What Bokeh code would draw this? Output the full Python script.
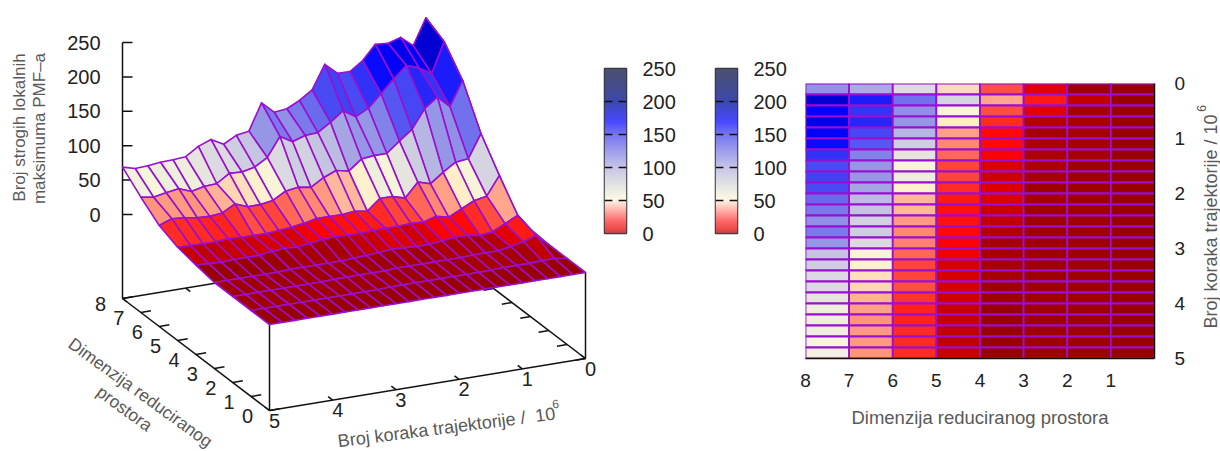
import numpy as np
from bokeh.core.properties import value
from bokeh.embed import file_html
from bokeh.layouts import row
from bokeh.models import ColumnDataSource, FixedTicker, Range1d
from bokeh.plotting import figure
from bokeh.resources import INLINE

FONT = "Liberation Sans"
PURPLE = "#9a0fd0"
INK = "#222222"
GREY = "#595959"

# ---------- data ----------
# trajectory step index runs t = 5.0, 4.8, ... 0.2, 0.0 (26 values)
t_values = [5.0 - 0.2 * i for i in range(26)]
d_values = [8, 7, 6, 5, 4, 3, 2, 1, 0]

z_d8 = [66, 61, 62, 64, 64.5, 66, 78, 85, 75, 85, 88, 126, 109.5, 111.5, 120.5, 133, 167, 151, 150.5, 163.5, 184, 182.6, 188, 173, 210.5, 30]
z_d7 = [42.6, 39.6, 43, 45.8, 38.8, 43, 44, 56, 55, 59, 70, 97.5, 87, 93, 94, 106, 120, 108, 117.6, 135.5, 154, 170.5, 164, 152.5, 196, 24]
z_d6 = [21.8, 28.5, 27, 24, 23, 25, 35, 28, 28, 31, 41.4, 44, 41, 52, 59.4, 55.4, 70, 72, 72, 87, 101, 128, 142, 125, 160, 18]
z_d5 = [10.6, 10, 9.5, 9, 10.8, 10, 9.5, 9, 10.7, 12.5, 15, 19, 19, 18.5, 20.6, 17.6, 33, 33, 27.5, 47.7, 42.3, 56, 67.6, 69.6, 103, 10]
z_d4 = [5, 4, 3, 4, 4, 4, 7, 8, 7, 9, 12, 13, 12, 12, 13, 13, 13, 14, 13, 18.6, 14, 23, 32, 35.6, 62.5, 7]
z_d3 = [0, 0, 0, 0, 0, 0, 1, 1, 1, 1, 1, 2, 3, 4, 6, 5, 4, 4, 6, 8, 8, 5, 7, 16, 25, 2]
z_d2 = [0, 0, 0, 0, 0, 0, 0, 0, 1, 1, 1, 1, 1, 2, 2, 2, 2, 2, 2, 3, 3, 3, 6, 10, 16, 0]
z_d1 = [0, 0, 0, 0, 0, 0, 0, 0, 0, 0, 0, 1, 1, 1, 1, 1, 1, 1, 1, 1, 2, 2, 2, 3, 3, 0]
z_d0 = [0, 0, 0, 0, 0, 0, 0, 0, 0, 0, 0, 0, 0, 0, 0, 0, 0, 0, 0, 0, 0, 0, 0, 0, 0, 0]
z_surface = [z_d8, z_d7, z_d6, z_d5, z_d4, z_d3, z_d2, z_d1, z_d0]

# cell values, top row of the map (t 0-0.2) first, one list per dimension band
cells_d8_7 = [115, 183, 170, 176, 172, 167, 156, 148, 151, 148, 135, 128, 116, 128, 112, 85, 80, 73, 73, 67, 62, 62, 62, 58, 60]
cells_d7_6 = [100, 162, 155, 159, 150, 143, 125, 112, 112, 103, 90, 85, 78, 80, 73, 56, 53, 47, 45, 38, 35, 33, 34, 34, 33]
cells_d6_5 = [72, 132, 116, 112, 93, 80, 67, 57, 62, 52, 39, 39, 34, 31, 30, 27, 23, 23, 24, 21, 19, 19, 20, 20, 20]
cells_d5_4 = [46, 76, 56, 50, 35, 31, 27, 23, 23, 20, 18, 17, 17, 16, 15, 13, 9, 9, 9, 8, 7, 7, 6, 6, 7]
cells_d4_3 = [24, 36, 24, 20, 16, 16, 15, 10, 8, 10, 10, 7, 6, 4, 2, 2, 2, 2, 1, 0.5, 0, 0, 0, 0, 0]
cells_d3_2 = [11, 18, 11, 4, 2, 3, 3, 3, 2, 1, 2, 1, 1, 1, 1, 1, 1, 1, 1, 1, 1, 1, 1, 1, 1]
cells_d2_1 = [1, 6, 2, 2, 2, 2, 2, 1, 1, 1, 1, 1, 1, 1, 1, 1, 1, 1, 1, 1, 1, 1, 1, 1, 1]
cells_d1_0 = [0, 0, 0, 0, 0, 0, 0, 0, 0, 0, 0, 0, 0, 0, 0, 0, 0, 0, 0, 0, 0, 0, 0, 0, 0]
cells = [cells_d8_7, cells_d7_6, cells_d6_5, cells_d5_4, cells_d4_3, cells_d3_2, cells_d2_1, cells_d1_0]

z_ticks = [0, 50, 100, 150, 200, 250]
d_ticks = [0, 1, 2, 3, 4, 5, 6, 7, 8]
t_ticks = [0, 1, 2, 3, 4, 5]

z_title_1 = "Broj strogih lokalnih"
z_title_2 = "maksimuma PMF\u2013a"
d_title_1 = "Dimenzija reduciranog"
d_title_2 = "prostora"
t_title = "Broj koraka trajektorije /\u00a0\u00a010"
map_t_title = "Broj koraka trajektorije / 10"
sup = "6"
map_x_title = "Dimenzija reduciranog prostora"

# palette of the surface and map
pal_v = [0, 15, 30, 40, 50, 58, 75, 100, 125, 150, 170, 185, 250]
pal_r = [153, 255, 255, 255, 255, 246, 215, 170, 130, 70, 0, 0, 0]
pal_g = [0, 0, 130, 190, 238, 246, 215, 170, 130, 70, 0, 0, 0]
pal_b = [0, 0, 110, 160, 200, 220, 225, 228, 235, 245, 255, 204, 100]

# colour bar as drawn (a paler rendition of the palette)
bar_v = [0, 5, 20, 45, 52, 60, 100, 150, 170, 200, 225, 250]
bar_r = [176, 235, 255, 255, 255, 242, 198, 118, 72, 60, 68, 76]
bar_g = [72, 72, 110, 225, 248, 242, 198, 118, 72, 72, 76, 80]
bar_b = [72, 72, 110, 212, 230, 226, 232, 242, 255, 176, 140, 112]


def colour(v, xs, r, g, b):
    return "#%02x%02x%02x" % (int(np.interp(v, xs, r)), int(np.interp(v, xs, g)), int(np.interp(v, xs, b)))


def cell_colour(v):
    return colour(v, pal_v, pal_r, pal_g, pal_b)


# ---------- view of the 3D box ----------
Z_FLOOR = -125.0
OX, OY = 269.0, 324.0
TX, TY = 63.2, -10.4
DX, DY = -18.375, -14.0
ZY = -0.688


def proj(t, d, z):
    return OX + (5 - t) * TX + d * DX, OY + (5 - t) * TY + d * DY + z * ZY


W3, H3 = 596, 451
p3 = figure(width=W3, height=H3, x_range=Range1d(0, W3), y_range=Range1d(H3, 0),
            x_axis_location=None, y_axis_location=None, toolbar_location=None,
            output_backend="svg", min_border=0, outline_line_color=None, frame_align=False)
p3.xgrid.visible = False
p3.ygrid.visible = False

seg = {"x0": [], "y0": [], "x1": [], "y1": []}


def add_seg(a, b):
    seg["x0"].append(a[0]); seg["y0"].append(a[1]); seg["x1"].append(b[0]); seg["y1"].append(b[1])


ZSHIFT = 2.0
# floor edges
add_seg(proj(5, 0, Z_FLOOR), proj(5, 8, Z_FLOOR))
add_seg(proj(5, 0, Z_FLOOR), proj(0, 0, Z_FLOOR))
add_seg(proj(0, 0, Z_FLOOR), proj(0, 8, Z_FLOOR))
add_seg(proj(5, 8, Z_FLOOR), proj(0, 8, Z_FLOOR))
# uprights
add_seg(proj(5, 0, Z_FLOOR), proj(5, 0, 0))
add_seg(proj(0, 0, Z_FLOOR), proj(0, 0, 0))
za = proj(5, 8, 250)
add_seg(proj(5, 8, Z_FLOOR), (za[0], za[1] + ZSHIFT))
# ticks
for z in z_ticks:
    a = proj(5, 8, z)
    add_seg((a[0], a[1] + ZSHIFT), (a[0] + 10, a[1] + ZSHIFT))
for d in d_ticks:
    add_seg(proj(5, d, Z_FLOOR), proj(4.84, d, Z_FLOOR))
    add_seg(proj(0, d, Z_FLOOR), proj(0.16, d, Z_FLOOR))
for t in t_ticks:
    add_seg(proj(t, 0, Z_FLOOR), proj(t, 0.25, Z_FLOOR))
    add_seg(proj(t, 8, Z_FLOOR), proj(t, 7.75, Z_FLOOR))
p3.segment("x0", "y0", "x1", "y1", source=ColumnDataSource(seg), line_color="#111111", line_width=1.5)

# surface, back to front
xs, ys, fills = [], [], []
n_k = len(t_values)
for c in range(len(cells)):
    for r in range(len(cells[c])):
        k = n_k - 2 - r
        corners = [(k, c), (k + 1, c), (k + 1, c + 1), (k, c + 1)]
        pts = [proj(t_values[a], d_values[b], z_surface[b][a]) for a, b in corners]
        xs.append([q[0] for q in pts])
        ys.append([q[1] for q in pts])
        fills.append(cell_colour(cells[c][r]))
p3.patches(xs="xs", ys="ys", fill_color="fills", line_color=PURPLE, line_width=1.6, line_join="round",
           source=ColumnDataSource(dict(xs=xs, ys=ys, fills=fills)))


def text3(fig, x, y, text, size, color, align="center", baseline="middle", angle=0.0):
    fig.text(x=[x], y=[y], text=[text], text_font=value(FONT), text_font_size=value(size), text_color=color,
             text_align=align, text_baseline=baseline, angle=angle, angle_units="deg")


for z in z_ticks:
    a = proj(5, 8, z)
    text3(p3, a[0] - 22, a[1] + ZSHIFT, str(z), "20px", INK, align="right")
for d in d_ticks:
    a = proj(5, d, Z_FLOOR)
    text3(p3, a[0] - 22, a[1] + 5, str(d), "20px", INK)
for t in t_ticks:
    a = proj(t, 0, Z_FLOOR)
    text3(p3, a[0] + 5, a[1] + 10, str(t), "20px", INK)

text3(p3, 19, 127, z_title_1, "17px", GREY, angle=90)
text3(p3, 39, 128, z_title_2, "17px", GREY, angle=90)
text3(p3, 140, 392, d_title_1, "17.4px", GREY, angle=-36)
text3(p3, 124, 408, d_title_2, "17.4px", GREY, angle=-36)
text3(p3, 446, 427, t_title, "18px", GREY, angle=7.3)
text3(p3, 555, 403, sup, "12px", GREY, angle=7.3)


# ---------- colour bars ----------
def colour_bar(width, left):
    bar_w = 22
    f = figure(width=width, height=451, x_range=Range1d(0, 1), y_range=Range1d(0, 250),
               x_axis_location=None, y_axis_location="right", toolbar_location=None, output_backend="svg",
               min_border_left=left, min_border_right=width - left - bar_w, min_border_top=68, min_border_bottom=218,
               outline_line_color="#333333", outline_line_width=1.5, frame_align=False)
    f.xgrid.visible = False
    f.ygrid.visible = False
    levels = np.arange(0, 251)
    rgba = np.zeros((len(levels), 1), dtype=np.uint32)
    view = rgba.view(dtype=np.uint8).reshape((len(levels), 1, 4))
    view[:, 0, 0] = np.interp(levels, bar_v, bar_r)
    view[:, 0, 1] = np.interp(levels, bar_v, bar_g)
    view[:, 0, 2] = np.interp(levels, bar_v, bar_b)
    view[:, 0, 3] = 255
    f.image_rgba(image=[rgba], x=0, y=0, dw=1, dh=250)
    inner = [v for v in z_ticks if 0 < v < 250]
    f.segment(x0=[0] * len(inner), x1=[0.36] * len(inner), y0=inner, y1=inner, line_color="#111111", line_width=1.5)
    f.segment(x0=[0.64] * len(inner), x1=[1] * len(inner), y0=inner, y1=inner, line_color="#111111", line_width=1.5)
    ax = f.yaxis[0]
    ax.ticker = FixedTicker(ticks=z_ticks)
    ax.axis_line_color = None
    ax.major_tick_line_color = None
    ax.minor_tick_line_color = None
    ax.major_label_standoff = 10
    ax.major_label_text_font = FONT
    ax.major_label_text_font_size = "20px"
    ax.major_label_text_color = INK
    return f


cb1 = colour_bar(110, 8)
cb2 = colour_bar(91, 9)

# ---------- map ----------
hm = figure(width=393, height=451, x_range=Range1d(8, 0), y_range=Range1d(5, 0),
            x_axis_location="below", y_axis_location="right", toolbar_location=None, output_backend="svg",
            min_border_left=8, min_border_right=36, min_border_top=83, min_border_bottom=93,
            outline_line_color=None, frame_align=False)
hm.xgrid.visible = False
hm.ygrid.visible = False
q_l, q_r, q_t, q_b, q_c = [], [], [], [], []
for c in range(len(cells)):
    for r in range(len(cells[c])):
        q_l.append(d_values[c])
        q_r.append(d_values[c + 1])
        q_t.append(t_values[n_k - 1 - r])
        q_b.append(t_values[n_k - 2 - r])
        q_c.append(cell_colour(cells[c][r]))
hm.quad(left="l", right="r", top="t", bottom="b", fill_color="c", line_color=PURPLE, line_width=1.8,
        source=ColumnDataSource(dict(l=q_l, r=q_r, t=q_t, b=q_b, c=q_c)))

xa = hm.xaxis[0]
xa.ticker = FixedTicker(ticks=[1, 2, 3, 4, 5, 6, 7, 8])
xa.axis_label = map_x_title
ya = hm.yaxis[0]
ya.ticker = FixedTicker(ticks=t_ticks)
for ax in (xa, ya):
    ax.axis_line_color = "#111111"
    ax.axis_line_width = 1.5
    ax.major_tick_line_color = None
    ax.minor_tick_line_color = None
    ax.major_label_text_font = FONT
    ax.major_label_text_font_size = "19px"
    ax.major_label_text_color = INK
    ax.axis_label_text_font = FONT
    ax.axis_label_text_font_size = "18.5px"
    ax.axis_label_text_font_style = "normal"
    ax.axis_label_text_color = GREY
xa.major_label_standoff = 9
xa.axis_label_standoff = 17
ya.major_label_standoff = 14

# strip beside the map for its rotated title
side = figure(width=30, height=451, x_range=Range1d(0, 30), y_range=Range1d(451, 0),
              x_axis_location=None, y_axis_location=None, toolbar_location=None,
              output_backend="svg", min_border=0, outline_line_color=None, frame_align=False)
side.xgrid.visible = False
side.ygrid.visible = False
text3(side, 20, 221, map_t_title, "18px", GREY, angle=90)
text3(side, 11, 108, sup, "12px", GREY, angle=90)

page = row(p3, cb1, cb2, hm, side, spacing=0)
open("out.html", "w").write(file_html(page, INLINE))
